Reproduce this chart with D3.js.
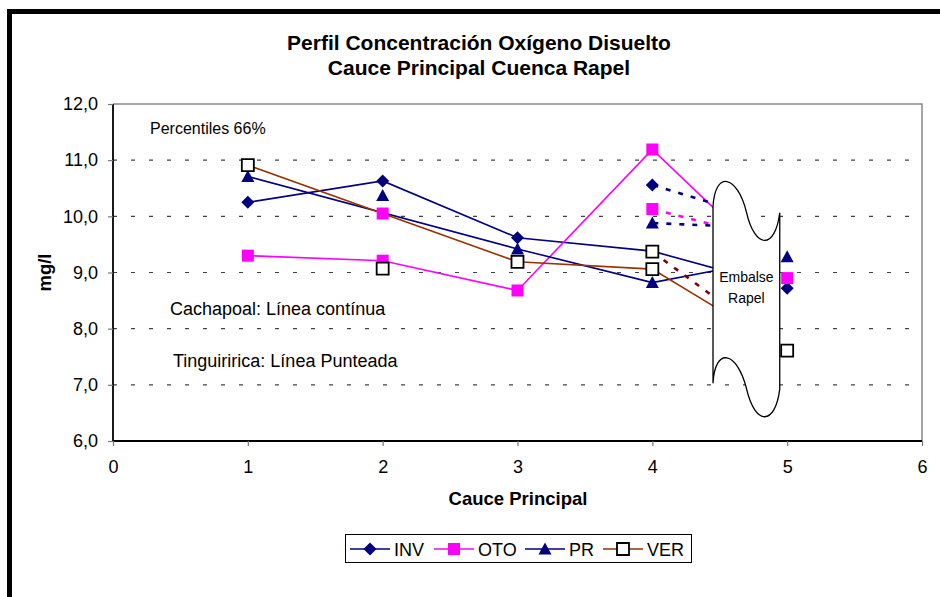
<!DOCTYPE html>
<html><head><meta charset="utf-8">
<script src="https://cdn.jsdelivr.net/npm/d3@7"></script>
<style>
html,body{margin:0;padding:0;background:#fff;}
svg{display:block;font-family:Arial,"Liberation Sans",sans-serif;}
</style></head>
<body>
<svg id="chart" width="940" height="597"></svg>
<script>
// ---- data ----
const cauce = [1, 2, 3, 4, 5];
const seriesNames = ["INV", "OTO", "PR", "VER"];
// Cachapoal (solid lines)
const invCachapoal = [10.25, 10.63, 9.62, 9.38, 8.72];
const otoCachapoal = [9.30, 9.21, 8.68, 11.19, 8.90];
const prCachapoal  = [10.71, null, 9.42, 8.82, 9.28];
const verCachapoal = [10.91, null, 9.19, 9.06, 7.61];
// Tinguiririca (dotted lines), at cauce 4 -> 5
const tinguX = [4, 5];
const invTingu = [10.56, 9.83];
const otoTingu = [10.13, 9.51];
const prTingu  = [9.88, 9.78];
const verTingu = [9.37, 7.61];
// unconnected markers at cauce 2
const extraX = 2;
const otoExtra = 10.05;
const prExtra  = 10.37;
const verExtra = 9.07;
const yTicks = [6, 7, 8, 9, 10, 11, 12];
const xTicks = [0, 1, 2, 3, 4, 5, 6];
const titleLines = ["Perfil Concentración Oxígeno Disuelto", "Cauce Principal Cuenca Rapel"];

// ---- styles ----
const col = {INV: "#000080", OTO: "#FF00FF", PR: "#000080", VER: "#993300", VERdot: "#800000"};
const markerPath = {
  INV: "M0,-6.5L6.5,0L0,6.5L-6.5,0Z",
  OTO: "M-6,-6H6V6H-6Z",
  PR: "M0,-6.5L6.5,5.5H-6.5Z",
  VER: "M-6,-6H6V6H-6Z"
};
function styleMarker(sel, name) {
  sel.attr("d", markerPath[name])
    .attr("fill", name === "VER" ? "#fff" : col[name])
    .attr("stroke", name === "VER" ? "#000" : "none")
    .attr("stroke-width", name === "VER" ? 1.8 : 0);
}

const svg = d3.select("#chart");
const x = d3.scaleLinear().domain([0, 6]).range([113, 922]);
const y = d3.scaleLinear().domain([6, 12]).range([441, 104]);

// outer frame
svg.append("rect").attr("x", 9.5).attr("y", 11.5).attr("width", 960).attr("height", 620)
  .attr("fill", "#fff").attr("stroke", "#000").attr("stroke-width", 5);

// title
svg.append("g").selectAll("text").data(titleLines).join("text")
  .attr("x", 479).attr("y", (d, i) => 50 + i * 25)
  .attr("text-anchor", "middle").attr("font-weight", "bold").attr("font-size", 21)
  .text(d => d);

// gridlines
svg.append("g").selectAll("line").data(yTicks.filter(t => t > 6 && t < 12)).join("line")
  .attr("x1", x(0)).attr("x2", x(6)).attr("y1", d => y(d)).attr("y2", d => y(d))
  .attr("stroke", "#444").attr("stroke-width", 1.2).attr("stroke-dasharray", "4,14");

// plot frame: top/right gray
svg.append("path").attr("d", `M${x(0)},${y(12)}H${x(6)}V${y(6)}`)
  .attr("fill", "none").attr("stroke", "#888").attr("stroke-width", 1.5);

// axes
const yAxis = d3.axisLeft(y).tickValues(yTicks).tickSize(5).tickPadding(10)
  .tickFormat(d => d3.format(".1f")(d).replace(".", ","));
const gy = svg.append("g").attr("transform", `translate(${x(0)},0)`).call(yAxis);
const xAxis = d3.axisBottom(x).tickValues(xTicks).tickSize(5).tickPadding(14).tickFormat(d3.format("d"));
const gx = svg.append("g").attr("transform", `translate(0,${y(6)})`).call(xAxis);
[gy, gx].forEach(g => {
  g.selectAll("text").attr("font-size", 18).attr("font-family", "Arial,'Liberation Sans',sans-serif").attr("fill", "#000");
  g.selectAll(".tick line").attr("stroke", "#777").attr("stroke-width", 1.2);
  g.select(".domain").attr("stroke", "#000").attr("stroke-width", 1.8);
});
gx.select(".domain").attr("d", `M${x(0)},0H${x(6)}`);
gy.select(".domain").attr("d", `M0,${y(12)}V${y(6)}`);

// axis titles
svg.append("text").attr("transform", `translate(51,${(y(6) + y(12)) / 2}) rotate(-90)`)
  .attr("text-anchor", "middle").attr("font-weight", "bold").attr("font-size", 18.5).text("mg/l");
svg.append("text").attr("x", 518).attr("y", 505)
  .attr("text-anchor", "middle").attr("font-weight", "bold").attr("font-size", 18.5).text("Cauce Principal");

// annotations
svg.append("text").attr("x", 150).attr("y", 134).attr("font-size", 16).text("Percentiles 66%");
svg.append("text").attr("x", 170).attr("y", 315).attr("font-size", 18).text("Cachapoal: Línea contínua");
svg.append("text").attr("x", 173).attr("y", 367).attr("font-size", 18).text("Tinguiririca: Línea Punteada");

// clip for lines (they disappear into the reservoir)
svg.append("clipPath").attr("id", "lineclip").append("rect")
  .attr("x", x(0)).attr("y", y(12)).attr("width", x(4.7) - x(0)).attr("height", y(6) - y(12));

const cach = {INV: invCachapoal, OTO: otoCachapoal, PR: prCachapoal, VER: verCachapoal};
const ting = {INV: invTingu, OTO: otoTingu, PR: prTingu, VER: verTingu};
const extra = {OTO: otoExtra, PR: prExtra, VER: verExtra};

const line = d3.line().x(d => x(d[0])).y(d => y(d[1]));
const gl = svg.append("g").attr("clip-path", "url(#lineclip)");
seriesNames.forEach(n => {
  const pts = cauce.map((c, i) => [c, cach[n][i]]).filter(d => d[1] != null);
  gl.append("path").attr("d", line(pts)).attr("fill", "none")
    .attr("stroke", col[n]).attr("stroke-width", 1.6);
});
seriesNames.forEach(n => {
  const pts = tinguX.map((c, i) => [c, ting[n][i]]);
  gl.append("path").attr("d", line(pts)).attr("fill", "none")
    .attr("stroke", n === "VER" ? col.VERdot : col[n]).attr("stroke-width", 2.6)
    .attr("stroke-dasharray", "5,8").attr("stroke-dashoffset", -14);
});

// reservoir shape "Embalse Rapel" (wave banner)
const L = x(4.45), R = x(4.945), T = y(10.17), B = y(7.03);
const W = R - L;
const wave = (yy) => `C${L + 2},${yy - 37} ${L + 24},${yy - 32} ${L + 0.5 * W},${yy + 5}` +
  `C${L + 0.63 * W},${yy + 43} ${L + 0.93 * W},${yy + 43} ${R},${yy + 6}`;
const waveRev = (yy) => `C${L + 0.93 * W},${yy + 43} ${L + 0.63 * W},${yy + 43} ${L + 0.5 * W},${yy + 5}` +
  `C${L + 24},${yy - 32} ${L + 2},${yy - 37} ${L},${yy}`;
const shapeD = `M${L},${T}` + wave(T) + `L${R},${B + 6}` + waveRev(B) + "Z";
svg.append("path").attr("d", shapeD).attr("fill", "#fff").attr("stroke", "#000").attr("stroke-width", 1.3);
svg.append("text").attr("x", (L + R) / 2).attr("y", 282).attr("text-anchor", "middle").attr("font-size", 14).text("Embalse");
svg.append("text").attr("x", (L + R) / 2).attr("y", 303).attr("text-anchor", "middle").attr("font-size", 14).text("Rapel");

// markers
const gm = svg.append("g");
seriesNames.forEach(n => {
  cauce.forEach((c, i) => {
    if (cach[n][i] == null) return;
    gm.append("path").attr("transform", `translate(${x(c)},${y(cach[n][i])})`).call(styleMarker, n);
  });
});
Object.keys(extra).forEach(n => {
  gm.append("path").attr("transform", `translate(${x(extraX)},${y(extra[n])})`).call(styleMarker, n);
});
seriesNames.forEach(n => {
  gm.append("path").attr("transform", `translate(${x(tinguX[0])},${y(ting[n][0])})`).call(styleMarker, n);
});

// legend
const lg = svg.append("g");
lg.append("rect").attr("x", 345.5).attr("y", 534.5).attr("width", 346).attr("height", 28)
  .attr("fill", "#fff").attr("stroke", "#000").attr("stroke-width", 1);
const legX = [350, 434, 525, 603];
seriesNames.forEach((n, i) => {
  const lx = legX[i], ly = 549;
  lg.append("line").attr("x1", lx).attr("x2", lx + 40).attr("y1", ly).attr("y2", ly)
    .attr("stroke", col[n]).attr("stroke-width", 1.6);
  lg.append("path").attr("transform", `translate(${lx + 20},${ly})`).call(styleMarker, n);
  lg.append("text").attr("x", lx + 44).attr("y", ly + 7).attr("font-size", 18).text(n);
});
</script>
</body></html>
